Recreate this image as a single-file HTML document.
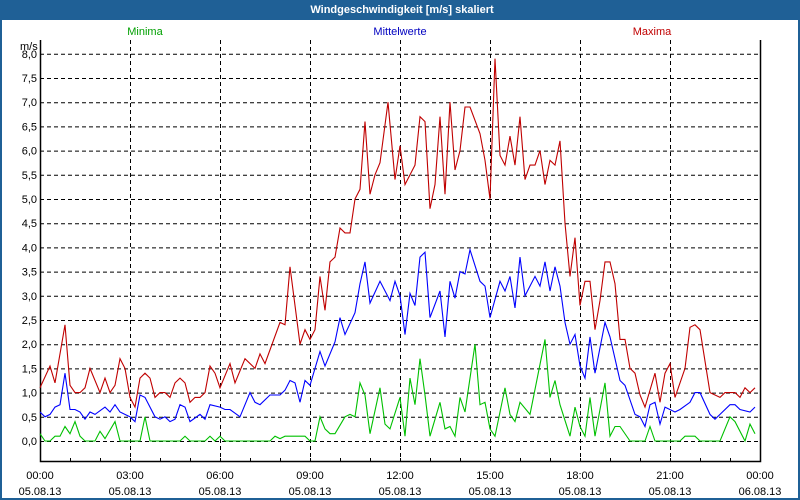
<!DOCTYPE html>
<html><head><meta charset="utf-8">
<style>
html,body{margin:0;padding:0;background:#fff;}
#wrap{position:relative;width:800px;height:500px;box-sizing:border-box;border:2px solid #1f6096;border-top:none;background:#fff;overflow:hidden;font-family:"Liberation Sans",sans-serif;}
#title{position:absolute;left:0;top:0;width:800px;height:20px;background:#1f6096;color:#fff;font-size:11px;font-weight:bold;text-align:center;line-height:20px;}
svg text{font-family:"Liberation Sans",sans-serif;font-size:11px;}
</style></head><body>
<div id="wrap">
<div id="title">Windgeschwindigkeit [m/s] skaliert</div>
<svg id="chart" width="800" height="500" style="position:absolute;left:-2px;top:0"></svg>
</div>
<script>
// time in minutes since 00:00 05.08.13, values in m/s
const maxT=[0,20,30,50,60,70,80,90,100,120,130,140,150,160,170,180,190,200,210,220,230,240,250,260,270,280,290,300,310,320,330,340,350,360,380,390,410,430,440,450,480,490,500,520,530,540,550,560,570,580,590,600,610,620,630,640,650,660,670,680,696,710,720,730,750,760,770,780,790,800,810,820,830,840,850,860,880,890,900,910,920,930,940,950,960,970,980,990,1000,1010,1020,1030,1040,1050,1060,1070,1080,1090,1100,1110,1120,1130,1140,1150,1160,1170,1180,1190,1200,1210,1230,1240,1250,1260,1270,1290,1300,1310,1320,1340,1360,1370,1390,1400,1410,1420,1430];
const maxV=[1.1,1.55,1.2,2.4,1.15,1.0,1.0,1.1,1.5,1.0,1.3,1.0,1.15,1.7,1.5,0.9,0.7,1.3,1.4,1.3,0.9,1.0,1.0,0.9,1.2,1.3,1.2,0.8,0.9,0.9,1.0,1.55,1.4,1.1,1.6,1.2,1.7,1.5,1.8,1.6,2.45,2.4,3.6,2.0,2.3,2.1,2.3,3.4,2.7,3.7,3.8,4.4,4.3,4.3,5.0,5.2,6.6,5.1,5.5,5.75,7.0,5.4,6.1,5.3,5.7,6.7,6.6,4.8,5.3,6.7,5.1,7.0,5.6,6.0,6.9,6.9,6.35,5.8,5.0,7.9,5.9,5.7,6.3,5.7,6.7,5.4,5.7,5.7,6.0,5.3,5.8,5.7,6.2,4.5,3.4,4.2,2.8,3.3,3.3,2.3,2.9,3.7,3.7,3.25,2.1,2.1,1.5,1.4,0.95,0.7,1.4,0.8,1.4,1.6,0.9,1.5,2.35,2.4,2.3,1.0,0.9,1.0,1.0,0.9,1.1,1.0,1.1];
const meanT=[0,10,20,30,40,50,60,70,80,90,100,110,130,140,150,160,180,190,200,210,230,240,250,260,270,280,290,300,320,330,340,360,370,380,400,420,430,440,460,480,490,500,510,520,530,540,560,570,590,600,610,630,640,650,660,680,700,710,720,730,740,750,760,770,780,800,810,820,830,840,850,860,880,890,900,920,930,940,950,960,970,990,1000,1010,1020,1030,1040,1050,1060,1070,1080,1090,1100,1110,1130,1140,1160,1170,1190,1200,1210,1220,1230,1240,1250,1270,1280,1300,1310,1320,1340,1350,1360,1380,1390,1400,1420,1430];
const meanV=[0.6,0.5,0.55,0.7,0.75,1.4,0.65,0.65,0.6,0.45,0.6,0.55,0.7,0.6,0.75,0.6,0.5,0.4,0.95,0.9,0.5,0.45,0.5,0.4,0.45,0.75,0.7,0.4,0.55,0.45,0.75,0.7,0.65,0.65,0.5,1.0,0.8,0.75,0.95,0.95,1.05,1.25,1.2,0.8,1.25,1.15,1.85,1.55,2.05,2.55,2.2,2.65,3.25,3.7,2.85,3.3,2.9,3.3,3.0,2.2,3.05,2.8,3.8,3.9,2.55,3.1,2.15,3.3,2.95,3.5,3.45,3.95,3.3,3.2,2.55,3.3,3.1,3.4,2.75,3.8,3.0,3.4,3.2,3.7,3.1,3.6,3.2,2.45,2.0,2.2,1.55,1.3,2.15,1.4,2.45,2.15,1.25,1.15,0.55,0.5,0.3,0.75,0.8,0.35,0.7,0.6,0.65,0.8,1.0,1.0,0.55,0.45,0.55,0.75,0.75,0.65,0.6,0.7];
const minT=[0,10,20,30,40,50,60,70,80,90,110,120,130,150,160,200,210,220,280,290,300,330,340,350,360,370,460,470,480,490,530,540,550,560,570,580,590,610,620,630,640,650,660,680,690,700,720,730,740,750,760,770,780,800,810,820,830,840,850,870,880,890,900,910,930,940,950,960,980,1010,1020,1030,1040,1060,1070,1080,1090,1100,1110,1130,1140,1150,1160,1180,1210,1220,1230,1280,1290,1310,1320,1360,1380,1390,1410,1420,1430];
const minV=[0.15,0,0,0.1,0.1,0.3,0.15,0.4,0.1,0,0,0.2,0.05,0.4,0,0,0.5,0,0,0.1,0,0,0.1,0,0.1,0,0,0.1,0.05,0.1,0.1,0,0,0.5,0.25,0.15,0.15,0.5,0.55,0.5,1.2,0.95,0.15,1.1,0.35,0.25,0.9,0.1,1.3,0.75,1.7,0.95,0.1,0.8,0.25,0.3,0.1,0.9,0.6,2.0,0.75,0.8,0.25,0.1,1.1,0.55,0.4,0.8,0.55,2.1,0.9,1.25,0.75,0.1,0.7,0.3,0.1,0.9,0.1,1.2,0.1,0.3,0.3,0,0,0.3,0,0,0.1,0.1,0,0,0.5,0.4,0,0.35,0.15];
const yTicks=[0,0.5,1,1.5,2,2.5,3,3.5,4,4.5,5,5.5,6,6.5,7,7.5,8];
const xLabels=["00:00","03:00","06:00","09:00","12:00","15:00","18:00","21:00","00:00"];
const dateLabels=["05.08.13","05.08.13","05.08.13","05.08.13","05.08.13","05.08.13","05.08.13","05.08.13","06.08.13"];

const L=40,R=760,TOP=40,BOT=461,Y0=441,PXU=48.4;
const xs=m=>L+(m/1440)*(R-L);
const ys=v=>Y0-v*PXU;
const NS="http://www.w3.org/2000/svg";
const svg=document.getElementById('chart');
function mk(tag,attrs,parent){const e=document.createElementNS(NS,tag);for(const k in attrs)e.setAttribute(k,attrs[k]);(parent||svg).appendChild(e);return e;}

yTicks.forEach(v=>{
  const g=mk('line',{x1:L,x2:R,y1:ys(v)+0.5,y2:ys(v)+0.5,stroke:'#000','stroke-dasharray':'4,3','stroke-width':1});
  
  
  const t=mk('text',{x:37,y:ys(v)+4,'text-anchor':'end',fill:'#000'});
  t.textContent=v.toFixed(1).replace('.',',');
  
  
});
xLabels.forEach((s,i)=>{
  const x=xs(i*180);
  if(i>0&&i<xLabels.length-1){
    const g=mk('line',{x1:x+0.5,x2:x+0.5,y1:TOP,y2:BOT,stroke:'#000','stroke-dasharray':'4,3'});
    
    
  }
  const t=mk('text',{x:x,y:479,'text-anchor':'middle',fill:'#000'});
  t.textContent=s;
  
  
  const d=mk('text',{x:x,y:495,'text-anchor':'middle',fill:'#000'});
  d.textContent=dateLabels[i];
  
  
});
for(let h=0;h<=24;h++){
  const tk=mk('line',{x1:xs(h*60)+0.5,x2:xs(h*60)+0.5,y1:BOT-3,y2:BOT,stroke:'#000'});
  
  
}
const ax=mk('path',{d:`M${L+0.5},${TOP}V${BOT+0.5}H${R+0.5}V${TOP}`,fill:'none',stroke:'#000','stroke-width':1.5});


function line(T,V,color,name){
  const n=Math.min(T.length,V.length);
  const pts=[];
  for(let i=0;i<n;i++)pts.push(xs(T[i]).toFixed(1)+','+ys(V[i]).toFixed(1));
  const p=mk('polyline',{points:pts.join(' '),fill:'none',stroke:color,'stroke-width':1.1});
  
  
}
line(minT,minV,'#00c000','minima-line');
line(meanT,meanV,'#0000ff','mittelwerte-line');
line(maxT,maxV,'#c00000','maxima-line');
const u=mk('text',{x:20,y:50,fill:'#000'});u.textContent='m/s';


[['Minima','#00a000',145,'legend-minima'],['Mittelwerte','#0000c0',400,'legend-mittelwerte'],['Maxima','#c00000',652,'legend-maxima']].forEach(a=>{
  const t=mk('text',{x:a[2],y:35,'text-anchor':'middle',fill:a[1]});t.textContent=a[0];
  
  
});
</script>
</body></html>
